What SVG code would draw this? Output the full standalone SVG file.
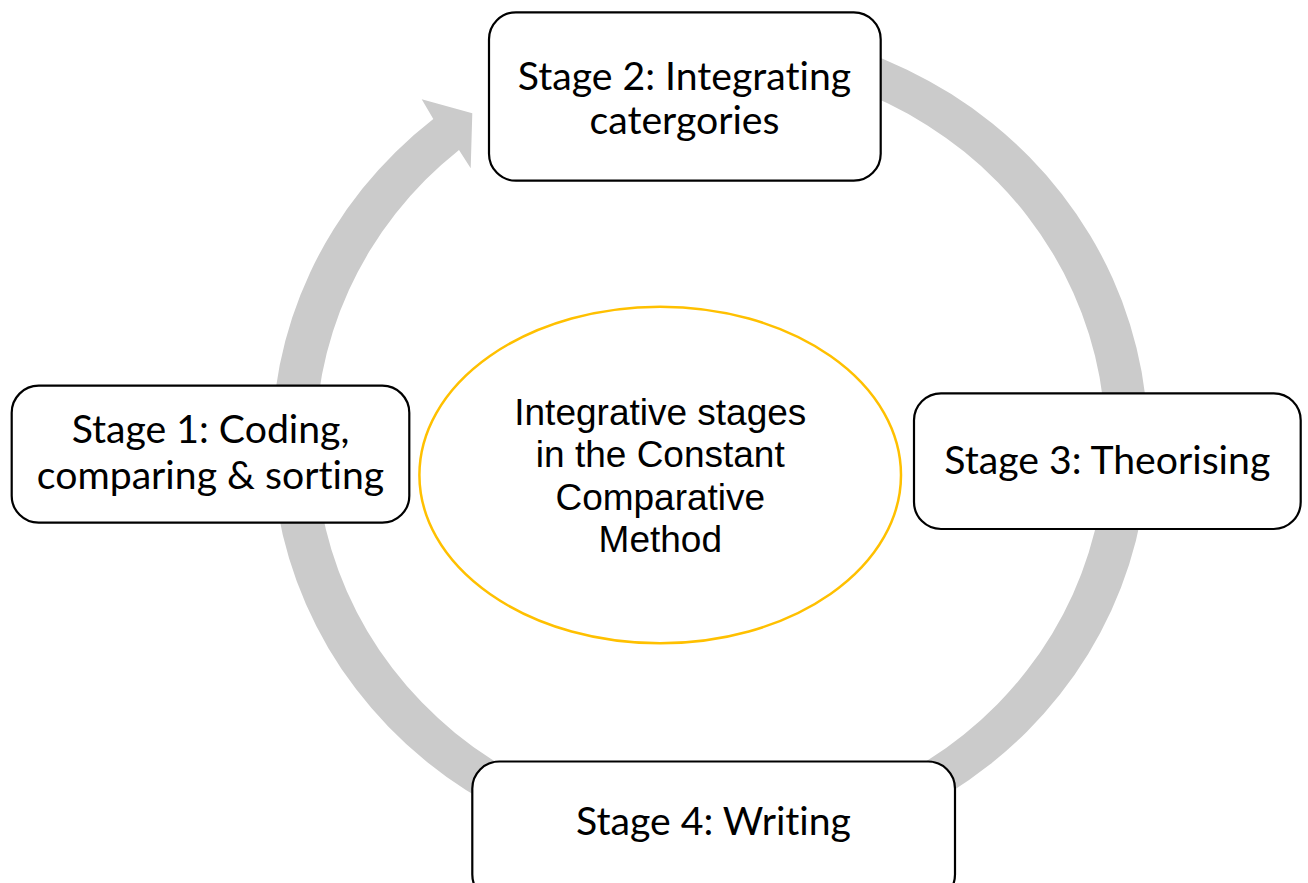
<svg xmlns="http://www.w3.org/2000/svg" width="1308" height="883" viewBox="0 0 1308 883">
<style>
.box{fill:#FFFFFF;stroke:#000000;stroke-width:2.2}
.lbl{font-family:Lato,"Open Sans","Liberation Sans",sans-serif;font-size:39.2px;fill:#000000;text-anchor:middle;font-variant-ligatures:none}
.ctr{font-family:"Liberation Sans",Arial,sans-serif;font-size:37px;fill:#000000;text-anchor:middle}
</style>
<rect width="1308" height="883" fill="#FFFFFF"/>
<g id="connectors">
<path d="M 710,25 A 438 418 0 1 1 433.3,119 L 421.7,99.3 L 472.3,113.3 L 470.7,168.3 L 459,150 A 395 380 0 1 0 710,63 Z" fill="#CBCBCB"/>
</g>
<g id="center">
<ellipse cx="660.2" cy="475" rx="240.8" ry="168.3" fill="#FFFFFF" stroke="#FFC000" stroke-width="2.5"/>
<text class="ctr" x="660.3" y="425">Integrative stages</text>
<text class="ctr" x="660.3" y="467">in the Constant</text>
<text class="ctr" x="660.3" y="509.5">Comparative</text>
<text class="ctr" x="660.3" y="552">Method</text>
</g>
<g id="stage1">
<rect class="box" x="11.7" y="385.7" width="397.6" height="137" rx="27" ry="27"/>
<text class="lbl" x="210.5" y="443">Stage 1: Coding,</text>
<text class="lbl" x="210.5" y="489">comparing &amp; sorting</text>
</g>
<g id="stage2">
<rect class="box" x="489" y="12.3" width="391.7" height="168.4" rx="27" ry="27"/>
<text class="lbl" x="684.5" y="89.5">Stage 2: Integrating</text>
<text class="lbl" x="684.5" y="134">catergories</text>
</g>
<g id="stage3">
<rect class="box" x="914" y="393.3" width="386.7" height="135.7" rx="27" ry="27"/>
<text class="lbl" x="1107.3" y="473.5">Stage 3: Theorising</text>
</g>
<g id="stage4">
<rect class="box" x="472.3" y="761.5" width="482.7" height="140" rx="27" ry="27"/>
<text class="lbl" x="713.5" y="835">Stage 4: Writing</text>
</g>
</svg>
